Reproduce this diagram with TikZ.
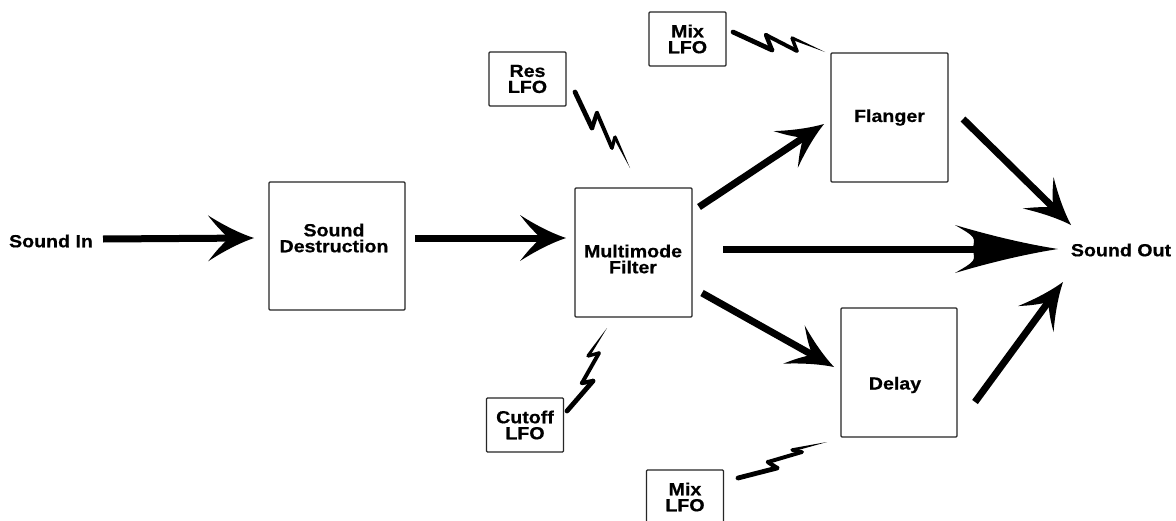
\documentclass[tikz,border=0pt]{standalone}
\usepackage{fontspec}
\setmainfont{Liberation Sans}[FakeStretch=1.12, BoldFeatures={FakeBold=0.6}]
\usetikzlibrary{calc}
\tikzset{
  lbl/.style={font=\fontsize{17.5}{16}\selectfont\bfseries, align=center, inner sep=0pt},
  blk/.style={draw=black!85, line width=1.3pt, rounded corners=1pt, fill=white,
    font=\fontsize{17.5}{16}\selectfont\bfseries, align=center, inner sep=0pt},
  lfo/.style={blk, minimum width=77pt, minimum height=54pt},
  fx/.style={blk, minimum width=117pt, minimum height=129pt},
}
\newcommand\bigarrow[5]{%
  \path (#1); \pgfgetlastxy{\ax}{\ay}%
  \path (#2); \pgfgetlastxy{\bx}{\by}%
  \pgfmathsetmacro\ang{atan2(\by-\ay,\bx-\ax)}%
  \pgfmathsetmacro\len{veclen(\bx-\ax,\by-\ay)}%
  \begin{scope}[shift={(#2)},rotate=\ang]
    \draw[line width=7pt] (-\len,0) -- ({-#5*#3+6},0);
    \fill (0,0) .. controls ({-0.3*#3},{0.2*#4}) and ({-0.65*#3},{0.55*#4}) .. ({-#3},{#4})
      .. controls ({-0.8*#3},{0.5*#4}) .. ({-#5*#3},0)
      .. controls ({-0.8*#3},{-0.5*#4}) .. ({-#3},{-#4})
      .. controls ({-0.65*#3},{-0.55*#4}) and ({-0.3*#3},{-0.2*#4}) .. (0,0) -- cycle;
  \end{scope}}
\newcommand\bolt[6]{%
  \draw[line width=4.8pt, line cap=round] (#1) -- (#2);
  \draw[line width=4.3pt, line cap=round] (#2) -- (#3);
  \draw[line width=3.9pt, line cap=round] (#3) -- (#4);
  \draw[line width=3.4pt, line cap=round] (#4) -- (#5);
  \fill ($(#5)!1.7pt!90:(#6)$) -- (#6) -- ($(#5)!1.7pt!-90:(#6)$) -- cycle;}
\begin{document}
\begin{tikzpicture}[x=1pt,y=-1pt]
\useasboundingbox[fill=white] (0,0) rectangle (1176,520);

% main blocks
\node[blk, minimum width=136pt, minimum height=128pt] (sd) at (337,246) {};
\node[lbl] (sdt) at (334,238) {Sound\\Destruction};
\node[fx] (mf) at (633.5,252.5) {};
\node[lbl] (mft) at (633,259) {Multimode\\Filter};
\node[fx] (fl) at (889.5,117.5) {Flanger};
\node[fx, minimum width=116pt] (dl) at (899,372.5) {};
\node[lbl] (dlt) at (895,385) {Delay};

% LFO boxes
\node[lfo] (res) at (527.5,79) {Res\\LFO};
\node[lfo] (cut) at (525,425) {Cutoff\\LFO};
\node[lfo] (mix1) at (687.5,39) {Mix\\LFO};
\node[lfo] (mix2) at (685,497) {Mix\\LFO};

% in / out labels
\node[lbl] (in) at (51,241) {Sound In};
\node[lbl] (out) at (1121,250) {Sound Out};

% arrow endpoints
\coordinate (inS) at (103,239);   \coordinate (sdW) at (254,238);
\coordinate (sdE) at (415,238);   \coordinate (mfW) at (566,238);
\coordinate (mfE) at (723,249);   \coordinate (outW) at (1058,249);
\coordinate (mfNE) at (699,207);  \coordinate (flW) at (824,124);
\coordinate (flE) at (963,119);   \coordinate (outNW) at (1071,225);
\coordinate (mfSE) at (702,293);  \coordinate (dlW) at (834,367);
\coordinate (dlE) at (975,402);   \coordinate (outSW) at (1063,282);

\bigarrow{inS}{sdW}{46}{23}{0.55}
\bigarrow{sdE}{mfW}{46}{23}{0.55}
\bigarrow{mfE}{outW}{103}{24}{0.83}
\bigarrow{mfNE}{flW}{46}{22}{0.55}
\bigarrow{flE}{outNW}{46}{22}{0.55}
\bigarrow{mfSE}{dlW}{46}{22}{0.55}
\bigarrow{dlE}{outSW}{46}{22}{0.55}

% modulation bolts
\bolt{575,92}{592,128}{597,113}{612,148}{615,137}{630,168}
\bolt{567,411}{593,381}{582,383}{599,353}{588,356}{607,328}
\bolt{733,32}{772,50}{766,35}{797,51}{792,38}{825,52}
\bolt{738,478}{777,468}{768,462}{802,452}{792,450}{827,442}
\end{tikzpicture}
\end{document}
